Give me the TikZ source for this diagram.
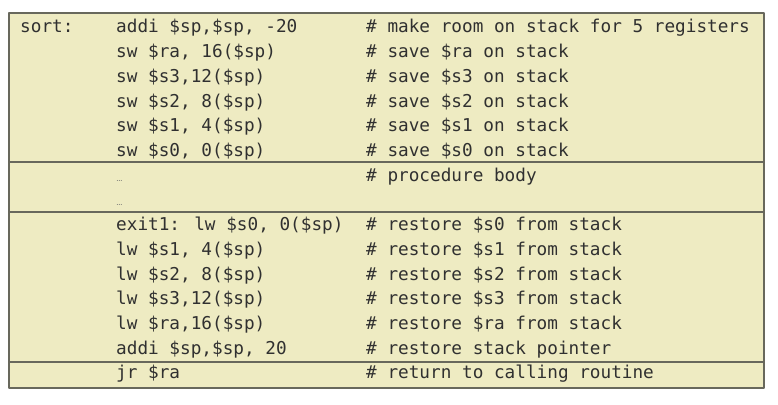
\documentclass[tikz,border=0pt]{standalone}
\usepackage{fontspec}
\newfontfamily\codefont{DejaVu Sans Mono}
\definecolor{panel}{HTML}{EEEBC2}
\definecolor{rulegray}{HTML}{68685C}
\definecolor{ink}{HTML}{303030}
\tikzset{
  code/.style={anchor=base west, inner sep=0pt, text=ink, font=\codefont\fontsize{17.7}{20}\selectfont},
  dots/.style={anchor=base west, inner sep=0pt, text=ink!70, font=\fontsize{10}{10}\selectfont}
}
\begin{document}
\begin{tikzpicture}[x=1pt, y=-1pt, line join=round]
	\useasboundingbox (0,0) rectangle (778,404);
	\fill[panel] (9,13) rectangle (764,388);
	\draw[rulegray, line width=1.2pt] (9,162)--(764,162) (9,212)--(764,212) (9,362)--(764,362);
	\draw[rulegray, line width=1.6pt] (9,13) rectangle (764,388);
	% save registers
	\node[code] (sort) at (20,33) {sort:};
	\node[code] (addA) at (116,33) {addi \$sp,\$sp, -20};
	\node[code] (swRa) at (116,57.7) {sw \$ra, 16(\$sp)};
	\node[code] (swSt) at (116,82.4) {sw \$s3,12(\$sp)};
	\node[code] (swSb) at (116,107.1) {sw \$s2, 8(\$sp)};
	\node[code] (swSa) at (116,131.8) {sw \$s1, 4(\$sp)};
	\node[code] (swSz) at (116,156.5) {sw \$s0, 0(\$sp)};
	\node[code] (cmA) at (366,33) {\# make room on stack for 5 registers};
	\node[code] (cmB) at (366,57.7) {\# save \$ra on stack};
	\node[code] (cmC) at (366,82.4) {\# save \$s3 on stack};
	\node[code] (cmD) at (366,107.1) {\# save \$s2 on stack};
	\node[code] (cmE) at (366,131.8) {\# save \$s1 on stack};
	\node[code] (cmF) at (366,156.5) {\# save \$s0 on stack};
	% body
	\node[dots] (bodyA) at (116,181.2) {\ldots};
	\node[dots] (bodyB) at (116,205.9) {\ldots};
	\node[code] (cmG) at (366,181.2) {\# procedure body};
	% restore registers
	\node[code] (exit) at (116,230.6) {exit1: lw \$s0, 0(\$sp)};
	\node[code] (lwSa) at (116,255.3) {lw \$s1, 4(\$sp)};
	\node[code] (lwSb) at (116,280) {lw \$s2, 8(\$sp)};
	\node[code] (lwSt) at (116,304.7) {lw \$s3,12(\$sp)};
	\node[code] (lwRa) at (116,329.4) {lw \$ra,16(\$sp)};
	\node[code] (addB) at (116,354.1) {addi \$sp,\$sp, 20};
	\node[code] (cmH) at (366,230.6) {\# restore \$s0 from stack};
	\node[code] (cmI) at (366,255.3) {\# restore \$s1 from stack};
	\node[code] (cmJ) at (366,280) {\# restore \$s2 from stack};
	\node[code] (cmK) at (366,304.7) {\# restore \$s3 from stack};
	\node[code] (cmL) at (366,329.4) {\# restore \$ra from stack};
	\node[code] (cmM) at (366,354.1) {\# restore stack pointer};
	% return
	\node[code] (jr) at (116,378.8) {jr \$ra};
	\node[code] (cmN) at (366,378.8) {\# return to calling routine};
\end{tikzpicture}
\end{document}
